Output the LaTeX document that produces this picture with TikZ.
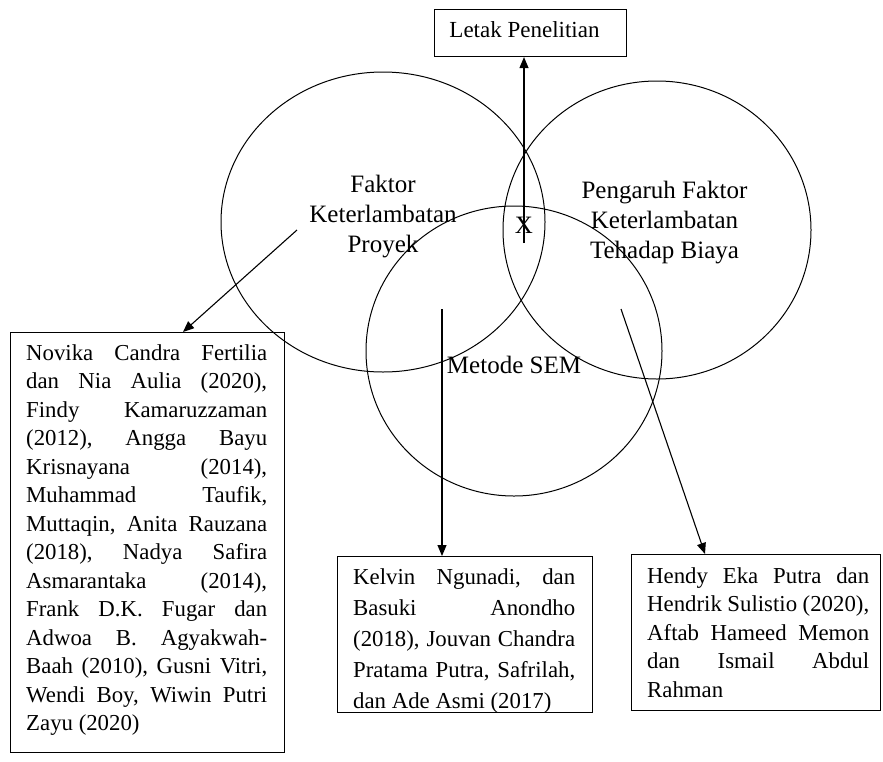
\documentclass[tikz,border=0pt]{standalone}
\usepackage{fontspec}
\setmainfont{Liberation Serif}
\usetikzlibrary{arrows.meta,calc}
\newcommand{\jl}[1]{\makebox[\linewidth][s]{#1}\\}
\begin{document}
\begin{tikzpicture}[x=1pt,y=1pt,
  box/.style={draw, line width=1.1pt, rectangle, inner sep=0pt, anchor=north west},
  txt/.style={inner sep=0pt, anchor=base west},
  lbl/.style={inner sep=0pt, anchor=base, font=\fontsize{25}{30}\selectfont},
  arr/.style={line width=1.1pt, -{Triangle[length=11pt,width=9pt]}},
  venn/.style={line width=1pt}]
\useasboundingbox (0,0) rectangle (883,-761);
\frenchspacing
% Venn ellipses
\draw[venn] (383,-222) ellipse [x radius=162pt, y radius=150pt];
\draw[venn] (657,-230) ellipse [x radius=154pt, y radius=149pt];
\draw[venn] (514,-351) ellipse [x radius=148pt, y radius=145pt];
% labels
\node[lbl] (l1) at (383,-192) {\parbox[t]{220pt}{\centering Faktor\\Keterlambatan\\Proyek}};
\node[lbl] (l2) at (664.5,-198) {\parbox[t]{220pt}{\centering Pengaruh Faktor\\Keterlambatan\\Tehadap Biaya}};
\node[lbl] (l3) at (514,-373) {Metode SEM};
\node[lbl] (lx) at (524,-233) {X};
% boxes
\node[box, minimum width=192pt, minimum height=47pt] (top) at (434,-9) {};
\node[lbl, font=\fontsize{23}{27}\selectfont] (toptext) at (524.5,-37) {Letak Penelitian};
\node[box, minimum width=274pt, minimum height=420pt] (lb) at (10,-332) {};
\node[txt] (lbt) at (26,-360) {\parbox[t]{241pt}{\fontsize{22.8}{28.5}\selectfont\frenchspacing
\jl{Novika Candra Fertilia}
\jl{dan Nia Aulia (2020),}
\jl{Findy Kamaruzzaman}
\jl{(2012), Angga Bayu}
\jl{Krisnayana (2014),}
\jl{Muhammad Taufik,}
\jl{Muttaqin, Anita Rauzana}
\jl{(2018), Nadya Safira}
\jl{Asmarantaka (2014),}
\jl{Frank D.K. Fugar dan}
\jl{Adwoa B. Agyakwah-}
\jl{Baah (2010), Gusni Vitri,}
\jl{Wendi Boy, Wiwin Putri}
Zayu (2020)}};
\node[box, minimum width=255pt, minimum height=156pt] (mb) at (337,-556) {};
\node[txt] (mbt) at (353,-584) {\parbox[t]{222pt}{\fontsize{22.8}{31.2}\selectfont\frenchspacing
\jl{Kelvin Ngunadi, dan}
\jl{Basuki Anondho}
\jl{(2018), Jouvan Chandra}
\jl{Pratama Putra, Safrilah,}
dan Ade Asmi (2017)}};
\node[box, minimum width=249pt, minimum height=156pt] (rb) at (631,-554) {};
\node[txt] (rbt) at (647,-583) {\parbox[t]{222pt}{\fontsize{22.8}{28.6}\selectfont\frenchspacing
\jl{Hendy Eka Putra dan}
\jl{Hendrik Sulistio (2020),}
\jl{Aftab Hameed Memon}
\jl{dan Ismail Abdul}
Rahman}};
% arrow start points
\coordinate (sx) at (524,-243);
\coordinate (s1) at (297,-230);
\coordinate (s2) at (442,-309);
\coordinate (s3) at (621,-309);
% connectors
\draw[arr] (sx) -- (sx |- top.south);
\draw[arr] (s1) -- ($(lb.north west)+(173,0)$);
\draw[arr] (s2) -- (s2 |- mb.north);
\draw[arr] (s3) -- ($(rb.north west)+(74,0)$);
\end{tikzpicture}
\end{document}
